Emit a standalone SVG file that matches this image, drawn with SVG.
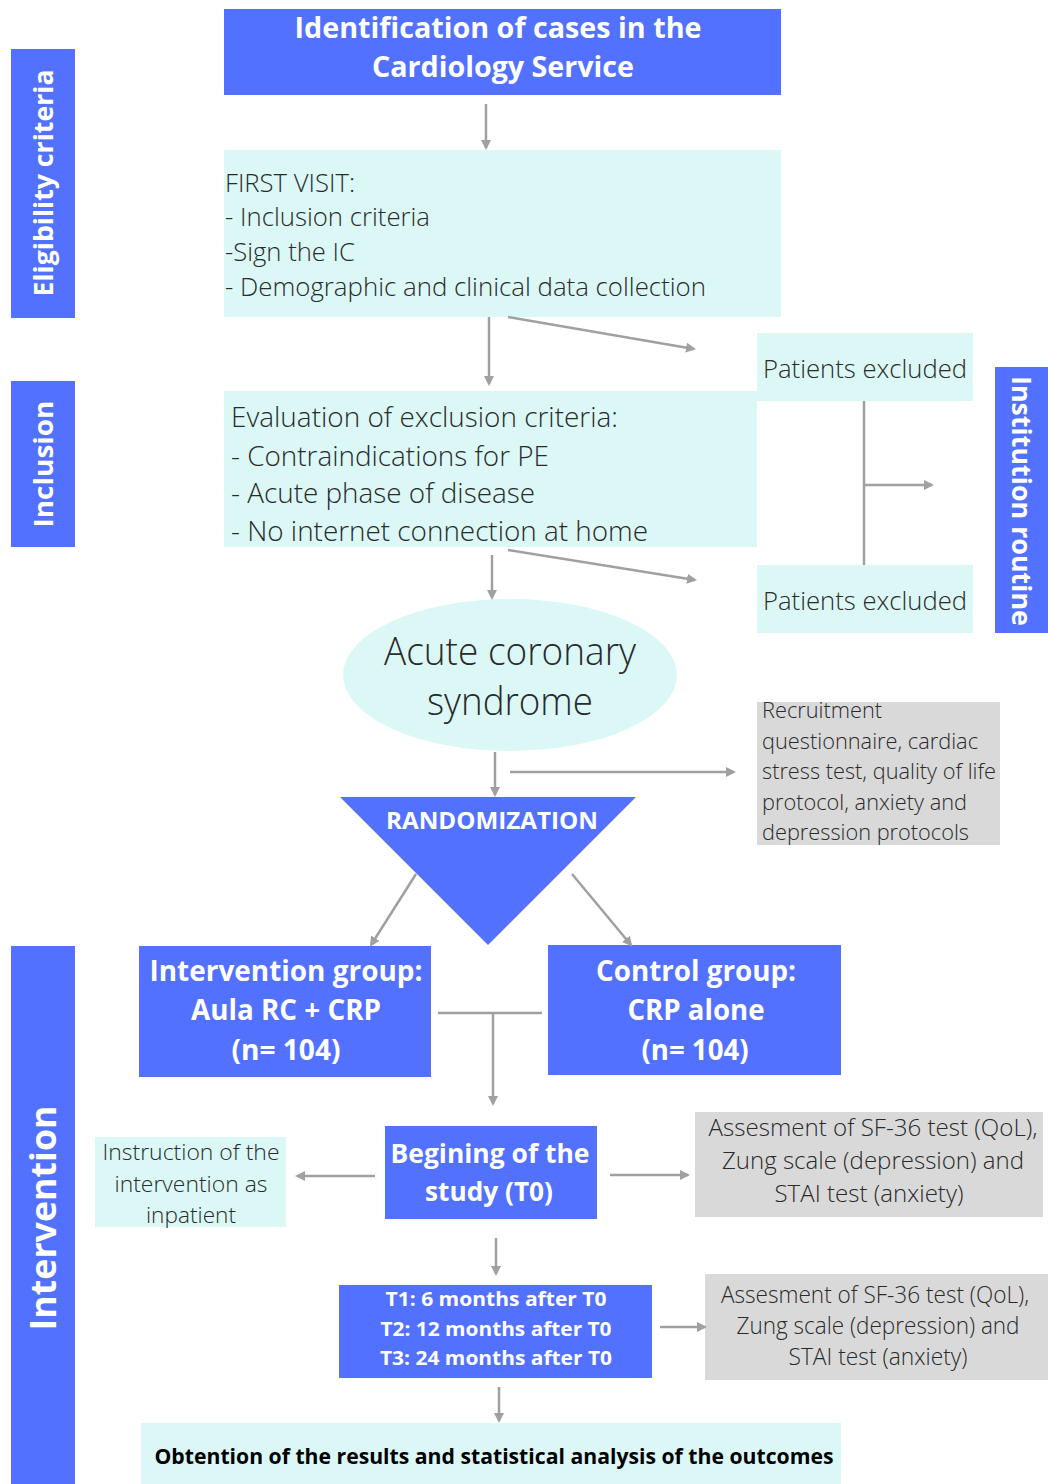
<svg xmlns="http://www.w3.org/2000/svg" width="1048" height="1484" viewBox="0 0 1048 1484">
<style>
.blue{fill:#5271FF}
.cyan{fill:#DBF8F7}
.grey{fill:#D9D9D9}
.t{font-family:"Open Sans","Liberation Sans",sans-serif;fill:#2a2a2a;font-weight:300}
.b{font-family:"Open Sans","Liberation Sans",sans-serif;fill:#ffffff;font-weight:700}
.k{font-family:"Open Sans","Liberation Sans",sans-serif;fill:#000000;font-weight:700}
.c{text-anchor:middle}
.ln{stroke:#A0A0A0;stroke-width:2.5;fill:none}
.ar{stroke:#A0A0A0;stroke-width:2.5;fill:none;marker-end:url(#ah)}
</style>
<defs>
<marker id="ah" viewBox="0 0 10 10" refX="8" refY="5" markerWidth="4" markerHeight="4" orient="auto" markerUnits="strokeWidth">
<path d="M0,0 L10,5 L0,10 z" fill="#A0A0A0"/>
</marker>
</defs>
<rect width="1048" height="1484" fill="#ffffff"/>

<g id="label-eligibility">
<rect class="blue" x="11" y="49" width="64" height="269"/>
<text class="b c" font-size="27" transform="translate(53,183) rotate(-90)" textLength="227" lengthAdjust="spacingAndGlyphs">Eligibility criteria</text>
</g>
<g id="label-inclusion">
<rect class="blue" x="11" y="381" width="64" height="166"/>
<text class="b c" font-size="27" transform="translate(53,464) rotate(-90)" textLength="127" lengthAdjust="spacingAndGlyphs">Inclusion</text>
</g>
<g id="label-intervention">
<rect class="blue" x="11" y="946" width="64" height="538"/>
<text class="b c" font-size="36" transform="translate(56,1218) rotate(-90)" textLength="225" lengthAdjust="spacingAndGlyphs">Intervention</text>
</g>
<g id="label-institution">
<rect class="blue" x="995" y="367" width="53" height="266"/>
<text class="b c" font-size="27" transform="translate(1012,501) rotate(90)" textLength="250" lengthAdjust="spacingAndGlyphs">Institution routine</text>
</g>

<g id="identification">
<rect class="blue" x="224" y="9" width="557" height="86"/>
<text class="b c" font-size="28" x="498" y="38" textLength="407" lengthAdjust="spacingAndGlyphs">Identification of cases in the</text>
<text class="b c" font-size="28" x="503" y="77" textLength="262" lengthAdjust="spacingAndGlyphs">Cardiology Service</text>
</g>

<g id="first-visit">
<rect class="cyan" x="224" y="150" width="557" height="167"/>
<text class="t" font-size="25" x="225" y="192" textLength="130" lengthAdjust="spacingAndGlyphs">FIRST VISIT:</text>
<text class="t" font-size="25" x="225" y="226" textLength="205" lengthAdjust="spacingAndGlyphs">- Inclusion criteria</text>
<text class="t" font-size="25" x="225" y="261" textLength="130" lengthAdjust="spacingAndGlyphs">-Sign the IC</text>
<text class="t" font-size="25" x="225" y="296" textLength="481" lengthAdjust="spacingAndGlyphs">- Demographic and clinical data collection</text>
</g>

<g id="excluded-1">
<rect class="cyan" x="757" y="333" width="216" height="68"/>
<text class="t" font-size="26" x="763" y="378" textLength="204" lengthAdjust="spacingAndGlyphs">Patients excluded</text>
</g>

<g id="exclusion-criteria">
<rect class="cyan" x="224" y="391" width="533" height="156"/>
<text class="t" font-size="27" x="231" y="427" textLength="387" lengthAdjust="spacingAndGlyphs">Evaluation of exclusion criteria:</text>
<text class="t" font-size="27" x="231" y="466" textLength="318" lengthAdjust="spacingAndGlyphs">- Contraindications for PE</text>
<text class="t" font-size="27" x="231" y="503" textLength="304" lengthAdjust="spacingAndGlyphs">- Acute phase of disease</text>
<text class="t" font-size="27" x="231" y="541" textLength="417" lengthAdjust="spacingAndGlyphs">- No internet connection at home</text>
</g>

<g id="excluded-2">
<rect class="cyan" x="757" y="565" width="216" height="68"/>
<text class="t" font-size="26" x="763" y="610" textLength="204" lengthAdjust="spacingAndGlyphs">Patients excluded</text>
</g>

<g id="acs">
<ellipse class="cyan" cx="510" cy="675" rx="167" ry="76"/>
<text class="t c" font-size="38" x="510" y="665" textLength="252" lengthAdjust="spacingAndGlyphs">Acute coronary</text>
<text class="t c" font-size="38" x="510" y="715" textLength="166" lengthAdjust="spacingAndGlyphs">syndrome</text>
</g>

<g id="recruitment">
<rect class="grey" x="757" y="702" width="243" height="143"/>
<text class="t" font-size="22" x="762" y="718" textLength="120" lengthAdjust="spacingAndGlyphs">Recruitment</text>
<text class="t" font-size="22" x="762" y="749" textLength="216" lengthAdjust="spacingAndGlyphs">questionnaire, cardiac</text>
<text class="t" font-size="22" x="762" y="779" textLength="234" lengthAdjust="spacingAndGlyphs">stress test, quality of life</text>
<text class="t" font-size="22" x="762" y="810" textLength="205" lengthAdjust="spacingAndGlyphs">protocol, anxiety and</text>
<text class="t" font-size="22" x="762" y="840" textLength="207" lengthAdjust="spacingAndGlyphs">depression protocols</text>
</g>

<g id="randomization">
<polygon class="blue" points="340,797 636,797 488,945"/>
<text class="b c" font-size="24" x="492" y="829" textLength="212" lengthAdjust="spacingAndGlyphs">RANDOMIZATION</text>
</g>

<g id="intervention-group">
<rect class="blue" x="139" y="946" width="292" height="131"/>
<text class="b c" font-size="28" x="286" y="981" textLength="273" lengthAdjust="spacingAndGlyphs">Intervention group:</text>
<text class="b c" font-size="28" x="286" y="1020" textLength="190" lengthAdjust="spacingAndGlyphs">Aula RC + CRP</text>
<text class="b c" font-size="28" x="286" y="1060" textLength="109" lengthAdjust="spacingAndGlyphs">(n= 104)</text>
</g>

<g id="control-group">
<rect class="blue" x="548" y="945" width="293" height="130"/>
<text class="b c" font-size="28" x="696" y="981" textLength="200" lengthAdjust="spacingAndGlyphs">Control group:</text>
<text class="b c" font-size="28" x="696" y="1020" textLength="137" lengthAdjust="spacingAndGlyphs">CRP alone</text>
<text class="b c" font-size="28" x="695" y="1060" textLength="107" lengthAdjust="spacingAndGlyphs">(n= 104)</text>
</g>

<g id="instruction">
<rect class="cyan" x="95" y="1137" width="191" height="90"/>
<text class="t c" font-size="22" x="191" y="1160" textLength="177" lengthAdjust="spacingAndGlyphs">Instruction of the</text>
<text class="t c" font-size="22" x="191" y="1192" textLength="153" lengthAdjust="spacingAndGlyphs">intervention as</text>
<text class="t c" font-size="22" x="191" y="1223" textLength="90" lengthAdjust="spacingAndGlyphs">inpatient</text>
</g>

<g id="begining">
<rect class="blue" x="385" y="1126" width="212" height="93"/>
<text class="b c" font-size="27" x="490" y="1163" textLength="199" lengthAdjust="spacingAndGlyphs">Begining of the</text>
<text class="b c" font-size="27" x="489" y="1201" textLength="128" lengthAdjust="spacingAndGlyphs">study (T0)</text>
</g>

<g id="assessment-1">
<rect class="grey" x="695" y="1112" width="348" height="105"/>
<text class="t c" font-size="24" x="873" y="1136" textLength="329" lengthAdjust="spacingAndGlyphs">Assesment of SF-36 test (QoL),</text>
<text class="t c" font-size="24" x="873" y="1169" textLength="302" lengthAdjust="spacingAndGlyphs">Zung scale (depression) and</text>
<text class="t c" font-size="24" x="869" y="1202" textLength="189" lengthAdjust="spacingAndGlyphs">STAI test (anxiety)</text>
</g>

<g id="followups">
<rect class="blue" x="339" y="1285" width="313" height="93"/>
<text class="b c" font-size="20" x="496" y="1306" textLength="221" lengthAdjust="spacingAndGlyphs">T1: 6 months after T0</text>
<text class="b c" font-size="20" x="496" y="1336" textLength="231" lengthAdjust="spacingAndGlyphs">T2: 12 months after T0</text>
<text class="b c" font-size="20" x="496" y="1365" textLength="232" lengthAdjust="spacingAndGlyphs">T3: 24 months after T0</text>
</g>

<g id="assessment-2">
<rect class="grey" x="705" y="1274" width="343" height="106"/>
<text class="t c" font-size="23" x="875" y="1303" textLength="308" lengthAdjust="spacingAndGlyphs">Assesment of SF-36 test (QoL),</text>
<text class="t c" font-size="23" x="878" y="1334" textLength="283" lengthAdjust="spacingAndGlyphs">Zung scale (depression) and</text>
<text class="t c" font-size="23" x="878" y="1365" textLength="179" lengthAdjust="spacingAndGlyphs">STAI test (anxiety)</text>
</g>

<g id="outcomes">
<rect class="cyan" x="141" y="1423" width="700" height="61"/>
<text class="k c" font-size="21" x="494" y="1464" textLength="679" lengthAdjust="spacingAndGlyphs">Obtention of the results and statistical analysis of the outcomes</text>
</g>

<g id="connectors">
<line class="ar" x1="486" y1="104" x2="486" y2="148"/>
<line class="ar" x1="489" y1="317" x2="489" y2="384"/>
<line class="ar" x1="508" y1="317" x2="694" y2="349"/>
<line class="ln" x1="864" y1="401" x2="864" y2="565"/>
<line class="ar" x1="864" y1="485" x2="932" y2="485"/>
<line class="ar" x1="492" y1="555" x2="492" y2="598"/>
<line class="ar" x1="508" y1="550" x2="695" y2="580"/>
<line class="ar" x1="495" y1="752" x2="495" y2="795"/>
<line class="ar" x1="510" y1="772" x2="734" y2="772"/>
<line class="ar" x1="416" y1="874" x2="371" y2="945"/>
<line class="ar" x1="572" y1="874" x2="631" y2="945"/>
<line class="ln" x1="438" y1="1013" x2="542" y2="1013"/>
<line class="ar" x1="493" y1="1013" x2="493" y2="1104"/>
<line class="ar" x1="375" y1="1176" x2="297" y2="1176"/>
<line class="ar" x1="610" y1="1175" x2="688" y2="1175"/>
<line class="ar" x1="496" y1="1238" x2="496" y2="1274"/>
<line class="ar" x1="660" y1="1327" x2="705" y2="1327"/>
<line class="ar" x1="499" y1="1387" x2="499" y2="1421"/>
</g>
</svg>
